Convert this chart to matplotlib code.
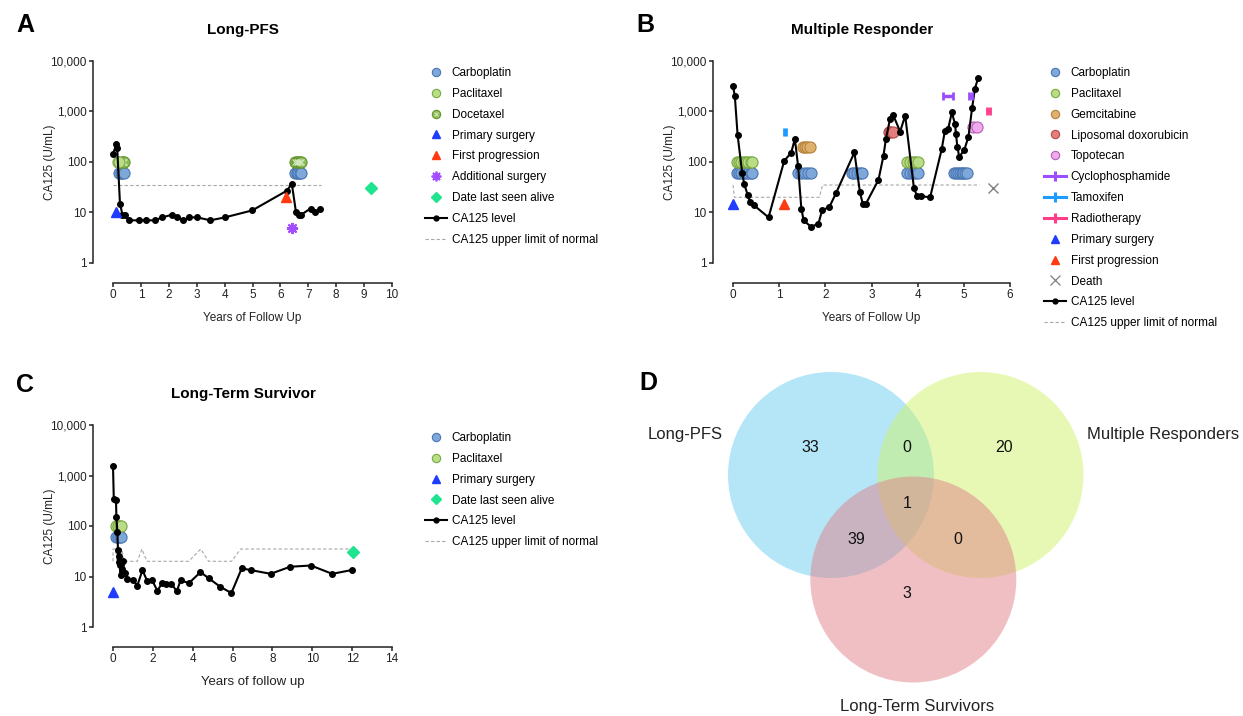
import matplotlib.pyplot as plt
from matplotlib.lines import Line2D
from matplotlib.patches import Circle
from matplotlib.ticker import NullLocator

plt.rcParams['font.family'] = ['Liberation Sans', 'DejaVu Sans']

# ---------------- data ----------------
y_ticks = [1, 10, 100, 1000, 10000]
y_ticklabels = ['1', '10', '100', '1,000', '10,000']

# A - Long-PFS
a_years = [0.0, 0.12, 0.15, 0.25, 0.34, 0.43, 0.57, 0.93, 1.17, 1.49, 1.77, 2.1, 2.28, 2.51,
           2.73, 3.02, 3.49, 4.01, 4.99, 6.23, 6.41, 6.56, 6.65, 6.74, 7.08, 7.25, 7.43]
a_ca125 = [144, 223, 190, 15, 9, 9, 7, 7, 7, 7, 8, 9, 8, 7,
           8, 8, 7, 8, 11, 27, 37, 10, 9, 9, 12, 10, 12]
a_uln_x = [0, 7.45]
a_uln_y = [35, 35]
a_carbo = [0.21, 0.27, 0.33, 0.39, 6.54, 6.59, 6.64, 6.70, 6.75]
a_pacli = [0.17, 0.20]
a_doce = [0.33, 0.36, 0.39, 6.54, 6.59, 6.64, 6.70, 6.75]
a_surgery = (0.1, 10)
a_progression = (6.2, 20)
a_add_surgery = (6.42, 5)
a_last_seen = (9.26, 30)

# B - Multiple Responder
b_years = [0.0, 0.04, 0.1, 0.2, 0.245, 0.32, 0.37, 0.45, 0.77, 1.11, 1.26, 1.34, 1.41, 1.48,
           1.53, 1.69, 1.85, 1.93, 2.09, 2.23, 2.63, 2.75, 2.81, 2.88, 3.15, 3.26, 3.31, 3.40,
           3.47, 3.62, 3.73, 3.92, 3.99, 4.08, 4.27, 4.52, 4.59, 4.66, 4.74, 4.81, 4.83, 4.86,
           4.90, 5.01, 5.10, 5.18, 5.24, 5.31]
b_ca125 = [3200, 2000, 340, 60, 36, 22, 16, 14, 8, 106, 152, 286, 83, 12,
           7, 5.2, 6, 11, 13, 24, 155, 25, 15, 15, 44, 133, 280, 700,
           850, 400, 830, 30, 21, 21, 20, 178, 416, 450, 960, 560, 355, 200,
           127, 173, 318, 1190, 2850, 4600]
b_uln_x = [0, 0.03, 1.87, 1.94, 5.34]
b_uln_y = [35, 20, 20, 35, 35]
b_carbo = [0.08, 0.13, 0.18, 0.23, 0.28, 0.33, 0.38, 0.42,
           1.40, 1.47, 1.55, 1.62, 1.70,
           2.57, 2.63, 2.69, 2.75, 2.80,
           3.77, 3.83, 3.89, 3.95, 4.01,
           4.79, 4.83, 4.87, 4.91, 4.95, 4.99, 5.03, 5.07]
b_pacli = [0.08, 0.13, 0.18, 0.23, 0.28, 0.33, 0.38, 0.42,
           3.77, 3.83, 3.89, 3.95, 4.01]
b_gem = [1.51, 1.56, 1.61, 1.66]
b_doxo = [3.37, 3.41, 3.46]
b_topo = [5.20, 5.28]
b_cyclo = [(4.54, 4.76), (5.11, 5.18)]
b_tamox = [(1.10, 1.15)]
b_radio = [(5.50, 5.57)]
b_surgery = (0.0, 15)
b_progression = (1.1, 15)
b_death = (5.64, 30)

# C - Long-Term Survivor
c_years = [0.0, 0.04, 0.15, 0.17, 0.22, 0.25, 0.28, 0.31, 0.35, 0.38, 0.42, 0.45, 0.5, 0.55,
           0.6, 0.72, 1.0, 1.22, 1.48, 1.71, 1.95, 2.23, 2.45, 2.68, 2.93, 3.2, 3.39, 3.81,
           4.39, 4.81, 5.37, 5.94, 6.46, 6.91, 7.91, 8.89, 9.93, 11.0, 11.97]
c_ca125 = [1550, 340, 330, 150, 75, 33, 19, 26, 17, 10.5, 18, 14, 20, 12,
           12, 8.9, 8.6, 6.6, 13.4, 8.2, 8.6, 5.2, 7.3, 7.2, 7.2, 5.1, 8.4, 7.4,
           12.2, 9.2, 6.3, 4.7, 14.5, 13.4, 11.3, 15.6, 16.5, 11.3, 13.4]
c_uln_x = [0, 0, 0.12, 0.2, 0.3, 0.45, 0.55, 0.62, 1.22, 1.45, 1.7, 3.8, 4.4, 4.8, 5.95, 6.4, 12.0]
c_uln_y = [20, 35, 35, 20, 35, 35, 20, 20, 20, 35, 20, 20, 35, 20, 20, 35, 35]
c_carbo = [0.16, 0.24, 0.33, 0.41]
c_pacli = [0.16, 0.24, 0.33, 0.41]
c_surgery = (0.0, 5)
c_last_seen = (12.05, 30)

# D - Venn counts
venn_sets = ['Long-PFS', 'Multiple Responders', 'Long-Term Survivors']
venn_counts = {'100': 33, '010': 20, '001': 3, '110': 0, '101': 39, '011': 0, '111': 1}

# ---------------- styles ----------------
drug_style = {
    'Carboplatin': dict(y=60, fc='#7ea7da', ec='#4a76b3'),
    'Paclitaxel': dict(y=100, fc='#b9dd86', ec='#7aa843'),
    'Docetaxel': dict(y=100, fc='#8dbb55', ec='#64952f'),
    'Gemcitabine': dict(y=200, fc='#e0b06e', ec='#b4823a'),
    'Liposomal doxorubicin': dict(y=400, fc='#e57d7d', ec='#b24a4a'),
    'Topotecan': dict(y=500, fc='#f1a9ee', ec='#b460b4'),
}
c_surg = '#1f3cff'
c_prog = '#ff3a12'
c_add = '#a24dff'
c_alive = '#1fe38e'
c_death = '#808080'
c_cyclo = '#9b4dff'
c_tamox = '#1e9bff'
c_radio = '#ff3d8b'
uln_color = '#a8a8a8'
asterisk = (8, 2, 0)

W, H = 1243, 716
fig = plt.figure(figsize=(W / 100, H / 100), dpi=100)


def px_box(l, t, r, b):
    return [l / W, 1 - b / H, (r - l) / W, (b - t) / H]


def style_axes(ax, xmax, xstep, xlabel, xlabel_size=8.5):
    ax.set_yscale('log')
    ax.set_xlim(0, xmax)
    ax.set_ylim(1, 10000)
    ax.set_yticks(y_ticks)
    ax.set_yticklabels(y_ticklabels)
    ax.yaxis.set_minor_locator(NullLocator())
    ax.set_xticks(range(0, xmax + 1, xstep))
    for s in ['top', 'right']:
        ax.spines[s].set_visible(False)
    for s in ['left', 'bottom']:
        ax.spines[s].set_position(('outward', 14.4))
        ax.spines[s].set_linewidth(1.1)
        ax.spines[s].set_color('#222222')
    ax.tick_params(length=3, width=1.1, labelsize=8.5, color='#222222',
                   labelcolor='#222222', pad=1.5)
    ax.set_xlabel(xlabel, fontsize=xlabel_size, color='#222222')
    ax.set_ylabel('CA125 (U/mL)', fontsize=8.5, color='#222222')
    ax.xaxis.set_label_coords(0.5, -0.245)
    ax.yaxis.set_label_coords(-0.205, 0.5)
    ax.patch.set_visible(False)


def drug_row(ax, name, xs):
    st = drug_style[name]
    ax.plot(xs, [st['y']] * len(xs), ls='none', marker='o', ms=8, mfc=st['fc'],
            mec=st['ec'], mew=0.8, clip_on=False, zorder=2)
    if name == 'Docetaxel':
        ax.plot(xs, [st['y']] * len(xs), ls='none', marker='x', ms=4.5, mec='#d3e8bb',
                mew=0.8, clip_on=False, zorder=2)


def ca125(ax, xs, ys, ux, uy):
    ax.plot(ux, uy, ls=(0, (3, 2)), lw=0.8, color=uln_color, clip_on=False, zorder=1)
    ax.plot(xs, ys, '-o', color='black', lw=1.5, ms=4, clip_on=False, zorder=3)


def event(ax, pt, marker, color, ms=6.5, mew=1.0):
    ax.plot([pt[0]], [pt[1]], ls='none', marker=marker, color=color, ms=ms, mew=mew,
            clip_on=False, zorder=4)


def bar_event(ax, spans, y, color):
    for lo, hi in spans:
        ax.errorbar([(lo + hi) / 2], [y], xerr=[(hi - lo) / 2], fmt='none', ecolor=color,
                    elinewidth=2.5, capsize=3, capthick=2, clip_on=False, zorder=4)


def leg_circle(name):
    st = drug_style[name]
    return Line2D([], [], ls='none', marker='o', ms=6, mfc=st['fc'], mec=st['ec'], mew=0.8)


def leg_marker(marker, color, ms=6, mew=1.0):
    return Line2D([], [], ls='none', marker=marker, ms=ms, color=color, mew=mew)


def leg_bar(color):
    return Line2D([], [], color=color, lw=2.2, marker='|', ms=7, mew=2.2)


leg_level = Line2D([], [], color='black', lw=1.5, marker='o', ms=3.5)
leg_uln = Line2D([], [], color=uln_color, lw=0.8, ls=(0, (3, 2)))


def add_legend(ax, handles, labels, left, top):
    ax.legend(handles, labels, loc='upper left', bbox_to_anchor=(left / W, 1 - top / H),
              bbox_transform=fig.transFigure, frameon=False, fontsize=8.5, borderpad=0,
              borderaxespad=0, handlelength=1.9, handletextpad=0.35, labelspacing=0.75,
              numpoints=1)


# ---------------- panel A ----------------
axA = fig.add_axes(px_box(113, 61, 392, 263))
style_axes(axA, 10, 1, 'Years of Follow Up')
ca125(axA, a_years, a_ca125, a_uln_x, a_uln_y)
drug_row(axA, 'Carboplatin', a_carbo)
drug_row(axA, 'Docetaxel', a_doce)
drug_row(axA, 'Paclitaxel', a_pacli)
event(axA, a_surgery, '^', c_surg)
event(axA, a_progression, '^', c_prog)
event(axA, a_add_surgery, asterisk, c_add, ms=8, mew=1.5)
event(axA, a_last_seen, 'D', c_alive, ms=6)
doce_leg = (leg_circle('Docetaxel'), leg_marker('x', '#d3e8bb', ms=3.5, mew=0.8))
add_legend(axA,
           [leg_circle('Carboplatin'), leg_circle('Paclitaxel'), doce_leg,
            leg_marker('^', c_surg), leg_marker('^', c_prog), leg_marker(asterisk, c_add, 7, 1.3),
            leg_marker('D', c_alive, 5.5), leg_level, leg_uln],
           ['Carboplatin', 'Paclitaxel', 'Docetaxel', 'Primary surgery', 'First progression',
            'Additional surgery', 'Date last seen alive', 'CA125 level',
            'CA125 upper limit of normal'], 425, 67)

# ---------------- panel B ----------------
axB = fig.add_axes(px_box(733, 61, 1010, 263))
style_axes(axB, 6, 1, 'Years of Follow Up')
ca125(axB, b_years, b_ca125, b_uln_x, b_uln_y)
drug_row(axB, 'Carboplatin', b_carbo)
drug_row(axB, 'Paclitaxel', b_pacli)
drug_row(axB, 'Gemcitabine', b_gem)
drug_row(axB, 'Liposomal doxorubicin', b_doxo)
drug_row(axB, 'Topotecan', b_topo)
bar_event(axB, b_cyclo, 2000, c_cyclo)
bar_event(axB, b_tamox, 400, c_tamox)
bar_event(axB, b_radio, 1000, c_radio)
event(axB, b_surgery, '^', c_surg)
event(axB, b_progression, '^', c_prog)
event(axB, b_death, 'x', c_death, ms=7, mew=1.0)
add_legend(axB,
           [leg_circle('Carboplatin'), leg_circle('Paclitaxel'), leg_circle('Gemcitabine'),
            leg_circle('Liposomal doxorubicin'), leg_circle('Topotecan'),
            leg_bar(c_cyclo), leg_bar(c_tamox), leg_bar(c_radio),
            leg_marker('^', c_surg), leg_marker('^', c_prog), leg_marker('x', c_death, 6.5, 0.9),
            leg_level, leg_uln],
           ['Carboplatin', 'Paclitaxel', 'Gemcitabine', 'Liposomal doxorubicin', 'Topotecan',
            'Cyclophosphamide', 'Tamoxifen', 'Radiotherapy', 'Primary surgery',
            'First progression', 'Death', 'CA125 level', 'CA125 upper limit of normal'],
           1044, 67)

# ---------------- panel C ----------------
axC = fig.add_axes(px_box(113, 425, 392, 627))
style_axes(axC, 14, 2, 'Years of follow up', xlabel_size=9.5)
ca125(axC, c_years, c_ca125, c_uln_x, c_uln_y)
drug_row(axC, 'Carboplatin', c_carbo)
drug_row(axC, 'Paclitaxel', c_pacli)
event(axC, c_surgery, '^', c_surg)
event(axC, c_last_seen, 'D', c_alive, ms=6)
add_legend(axC,
           [leg_circle('Carboplatin'), leg_circle('Paclitaxel'), leg_marker('^', c_surg),
            leg_marker('D', c_alive, 5.5), leg_level, leg_uln],
           ['Carboplatin', 'Paclitaxel', 'Primary surgery', 'Date last seen alive',
            'CA125 level', 'CA125 upper limit of normal'], 425, 432)

# ---------------- panel D (Venn) ----------------
axD = fig.add_axes(px_box(640, 340, W, H))
axD.set_xlim(640, W)
axD.set_ylim(H, 340)
axD.axis('off')
r = 103
centers = [(831, 475), (980.5, 475), (913.3, 579.5)]
colors = ['#6bcff3', '#cff36b', '#e18189']
for (cx, cy), col in zip(centers, colors):
    axD.add_patch(Circle((cx, cy), r, fc=col, ec='none', alpha=0.5))
count_pos = {'100': (810, 447), '110': (907, 447), '010': (1004, 447), '111': (907, 504),
             '101': (856, 539), '011': (958, 539), '001': (907, 593)}
for key, n in venn_counts.items():
    axD.text(*count_pos[key], str(n), ha='center', va='center', fontsize=11.5, color='#111111')
axD.text(685, 434, venn_sets[0], ha='center', va='center', fontsize=12, color='#222222')
axD.text(1163, 434, venn_sets[1], ha='center', va='center', fontsize=12, color='#222222')
axD.text(917, 706, venn_sets[2], ha='center', va='center', fontsize=12, color='#222222')

# ---------------- titles & panel letters ----------------
fig.text(243 / W, 1 - 30 / H, 'Long-PFS', ha='center', va='center', fontsize=11, fontweight='bold')
fig.text(862 / W, 1 - 30 / H, 'Multiple Responder', ha='center', va='center', fontsize=11,
         fontweight='bold')
fig.text(243 / W, 1 - 394 / H, 'Long-Term Survivor', ha='center', va='center', fontsize=11,
         fontweight='bold')
for letter, x, y in [('A', 25, 25), ('B', 645, 25), ('C', 25, 385), ('D', 648, 383)]:
    fig.text(x / W, 1 - y / H, letter, ha='center', va='center', fontsize=18, fontweight='bold')

fig.savefig('out.png', dpi=100)
